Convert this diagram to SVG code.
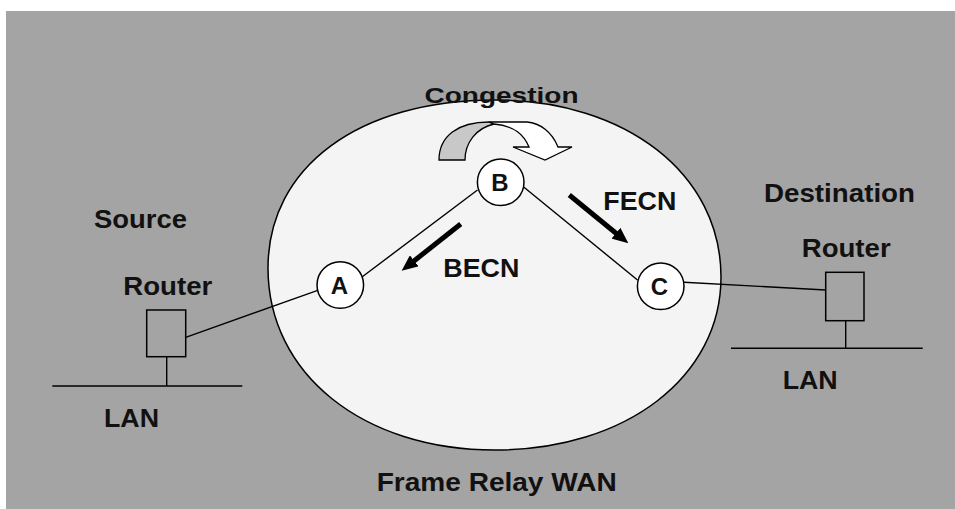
<svg xmlns="http://www.w3.org/2000/svg" width="955" height="509" viewBox="0 0 955 509">
<defs>
<style>
.t{font-family:"Liberation Sans",Arial,sans-serif;font-weight:bold;font-size:25px;fill:#111}
.ln{stroke:#000;stroke-width:1.4;fill:none}
.nd{fill:#fff;stroke:#000;stroke-width:1.5}
.nt{font-family:"Liberation Sans",Arial,sans-serif;font-weight:bold;font-size:24px;fill:#111;text-anchor:middle}
.rt{fill:#a4a4a4;stroke:#000;stroke-width:1.5}
.fat{stroke:#000;stroke-width:5;fill:none;marker-end:url(#ah)}
</style>
<marker id="ah" viewBox="0 0 16 14" markerWidth="16" markerHeight="14" refX="6" refY="7" orient="auto" markerUnits="userSpaceOnUse">
<path d="M0,0 L16,7 L0,14 Z" fill="#000"/>
</marker>
</defs>
<rect x="0" y="0" width="955" height="509" fill="#fff"/>
<rect x="6" y="11" width="949" height="498" fill="#a4a4a4"/>
<g id="wan">
<path d="M268,268 C268,167 359,100 495,100 C626,100 721,174 721,277 C721,377 626,450 495,450 C363,450 268,374 268,268 Z" fill="#f4f4f4" stroke="#000" stroke-width="1.5"/>
<text class="t" x="376.7" y="490.7" textLength="240" lengthAdjust="spacingAndGlyphs">Frame Relay WAN</text>
</g>
<g id="congestion">
<path d="M439,160 C439,136 458,122 489,122 L494,124 C476,128 465,143 465,160 Z" fill="#c8c8c8" stroke="#000" stroke-width="1.3"/>
<path d="M489,122 L527,122 C540,123 552,132 558,147 L572,147 L545,160 L513,147 L529,147 C524,135 515,126 494,124 Z" fill="#fff" stroke="#000" stroke-width="1.3"/>
<text class="t" style="font-size:22px" x="424.5" y="103" textLength="154" lengthAdjust="spacingAndGlyphs">Congestion</text>
</g>
<g id="connectors">
<line class="ln" x1="362" y1="277" x2="477.5" y2="190"/>
<line class="ln" x1="524" y1="187.3" x2="637.5" y2="280"/>
<line class="ln" x1="317" y1="290.7" x2="185.7" y2="337.3"/>
<line class="ln" x1="684" y1="282.3" x2="825.7" y2="290"/>
<line class="ln" x1="166.7" y1="356.7" x2="166.7" y2="386"/>
<line class="ln" x1="845.7" y1="320.7" x2="845.7" y2="348.3"/>
</g>
<g id="becn">
<line class="fat" x1="460.7" y1="224" x2="409.5" y2="264.5"/>
<text class="t" x="443.3" y="276.7" textLength="76" lengthAdjust="spacingAndGlyphs">BECN</text>
</g>
<g id="fecn">
<line class="fat" x1="569.3" y1="195" x2="620.6" y2="237"/>
<text class="t" x="603.3" y="210" textLength="73" lengthAdjust="spacingAndGlyphs">FECN</text>
</g>
<g id="nodeA">
<circle class="nd" cx="340.3" cy="285" r="23.3"/>
<text class="nt" x="339.5" y="293.5">A</text>
</g>
<g id="nodeB">
<circle class="nd" cx="500.7" cy="182.2" r="23.3"/>
<text class="nt" x="500" y="190.5">B</text>
</g>
<g id="nodeC">
<circle class="nd" cx="660.7" cy="286.3" r="23.3"/>
<text class="nt" x="659.5" y="294.8">C</text>
</g>
<g id="source">
<text class="t" x="94" y="228" textLength="93" lengthAdjust="spacingAndGlyphs">Source</text>
<text class="t" x="123.3" y="295" textLength="89" lengthAdjust="spacingAndGlyphs">Router</text>
<rect class="rt" x="146.7" y="310" width="39" height="46.7"/>
<line class="ln" x1="52.3" y1="386" x2="242.3" y2="386"/>
<text class="t" x="104" y="426.7" textLength="55" lengthAdjust="spacingAndGlyphs">LAN</text>
</g>
<g id="destination">
<text class="t" x="764" y="201.7" textLength="151" lengthAdjust="spacingAndGlyphs">Destination</text>
<text class="t" x="801.7" y="257.3" textLength="89" lengthAdjust="spacingAndGlyphs">Router</text>
<rect class="rt" x="825.7" y="272.3" width="38.3" height="48.4"/>
<line class="ln" x1="731" y1="348.3" x2="922.7" y2="348.3"/>
<text class="t" x="782.7" y="389" textLength="55" lengthAdjust="spacingAndGlyphs">LAN</text>
</g>
</svg>
